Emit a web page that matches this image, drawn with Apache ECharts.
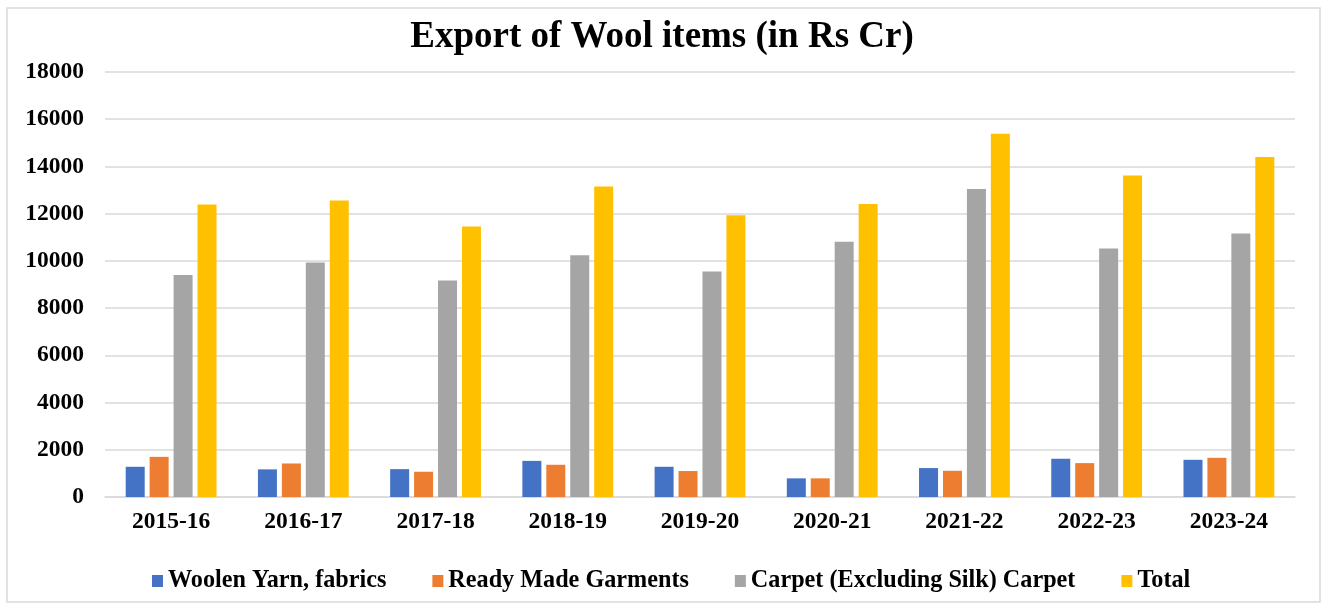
<!DOCTYPE html>
<html>
<head>
<meta charset="utf-8">
<script src="https://cdn.jsdelivr.net/npm/echarts@6/dist/echarts.min.js"></script>
<style>
  html, body { margin: 0; padding: 0; background: #fff; }
  #chart { width: 1324px; height: 605px; }
</style>
</head>
<body>
<div id="chart"></div>
<script>
// years on the x axis
const years = ["2015-16", "2016-17", "2017-18", "2018-19", "2019-20", "2020-21", "2021-22", "2022-23", "2023-24"];

// export values, Rs Cr
const woolenYarn = [1280, 1170, 1180, 1530, 1280, 790, 1225, 1620, 1575];
const readyMade = [1700, 1420, 1070, 1365, 1100, 790, 1110, 1435, 1660];
const carpet = [9400, 9930, 9170, 10240, 9550, 10815, 13040, 10520, 11155];
const total = [12390, 12560, 11460, 13150, 11930, 12405, 15380, 13615, 14405];

const seriesNames = ["Woolen Yarn, fabrics", "Ready Made Garments", "Carpet (Excluding Silk) Carpet", "Total"];
const seriesData = [woolenYarn, readyMade, carpet, total];
const colors = ["#4472C4", "#ED7D31", "#A5A5A5", "#FFC000"];

const font = "Liberation Serif";
const chart = echarts.init(document.getElementById("chart"));

const option = {
  animation: false,
  color: colors,
  title: {
    text: "Export of Wool items (in Rs Cr)",
    left: "center",
    top: 14,
    textStyle: { fontFamily: font, fontWeight: "bold", fontSize: 37, color: "#000" },
  },
  graphic: [
    {
      type: "rect",
      shape: { x: 7, y: 8, width: 1313, height: 594 },
      style: { fill: "none", stroke: "#D9D9D9", lineWidth: 1.5 },
      silent: true,
    },
  ],
  legend: {
    data: seriesNames,
    top: 564,
    left: 147,
    itemWidth: 11,
    itemHeight: 12,
    itemGap: 46,
    icon: "rect",
    textStyle: { fontFamily: font, fontWeight: "bold", fontSize: 24.2, color: "#000" },
  },
  grid: { left: 105, right: 29, top: 72, bottom: 108 },
  xAxis: {
    type: "category",
    data: years,
    axisLine: { lineStyle: { color: "#D9D9D9", width: 1.5 } },
    axisTick: { show: false },
    axisLabel: { margin: 13, fontFamily: font, fontWeight: "bold", fontSize: 23.5, color: "#000" },
  },
  yAxis: {
    type: "value",
    min: 0,
    max: 18000,
    interval: 2000,
    axisLine: { show: false },
    axisTick: { show: false },
    splitLine: { lineStyle: { color: "#D9D9D9", width: 1.5 } },
    axisLabel: { margin: 21, fontFamily: font, fontWeight: "bold", fontSize: 23.5, color: "#000", formatter: (v) => String(v) },
  },
  series: seriesNames.map((name, i) => ({
    name: name,
    type: "bar",
    data: seriesData[i],
    barWidth: 19,
    barGap: "26%",
  })),
};

chart.setOption(option);
</script>
</body>
</html>
